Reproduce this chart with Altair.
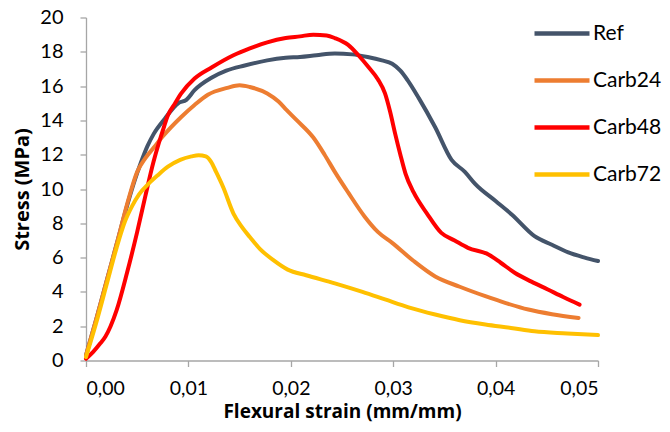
import altair as alt
import pandas as pd

series = ["Ref", "Carb24", "Carb48", "Carb72"]
colors = ["#44546A", "#ED7D31", "#FF0000", "#FFC000"]

ref_x = [0, 0.001, 0.002, 0.003, 0.004, 0.0047, 0.0054, 0.006, 0.0066, 0.0077, 0.009, 0.0098, 0.0106,
         0.0123, 0.0137, 0.0155, 0.0177, 0.0195, 0.0209, 0.0225, 0.0243, 0.026, 0.0275, 0.0289, 0.0299,
         0.0307, 0.0314, 0.0325, 0.0341, 0.0357, 0.037, 0.038, 0.040, 0.0416, 0.0438, 0.0455, 0.0471,
         0.0487, 0.050]
ref_y = [0.3, 2.4, 4.6, 6.8, 9.0, 10.4, 11.6, 12.5, 13.2, 14.1, 15.0, 15.2, 15.76,
         16.5, 16.9, 17.2, 17.5, 17.65, 17.7, 17.8, 17.9, 17.85, 17.7, 17.5, 17.3,
         16.9, 16.35, 15.3, 13.6, 11.7, 11.0, 10.3, 9.3, 8.5, 7.25, 6.75, 6.3,
         6.0, 5.8]

c24_x = [0, 0.001, 0.002, 0.003, 0.0041, 0.005, 0.0058, 0.0066, 0.0074, 0.0093, 0.0106, 0.0119,
         0.0138, 0.015, 0.016, 0.0177, 0.0188, 0.0196, 0.0206, 0.0222, 0.0233, 0.0243, 0.0256,
         0.0272, 0.0285, 0.0299, 0.032, 0.0341, 0.0365, 0.039, 0.041, 0.0432, 0.0455, 0.0481]
c24_y = [0.3, 2.4, 4.6, 6.8, 9.3, 11.0, 11.8, 12.4, 13.0, 14.2, 14.9, 15.5,
         15.9, 16.05, 15.95, 15.57, 15.1, 14.6, 14.0, 13.0, 12.0, 11.0, 9.8,
         8.4, 7.5, 6.86, 5.8, 4.9, 4.3, 3.75, 3.35, 2.97, 2.7, 2.48]

c48_x = [0, 0.0007, 0.0014, 0.0019, 0.0024, 0.003, 0.004, 0.005, 0.0058, 0.0066, 0.0071, 0.0076,
         0.008, 0.0087, 0.0093, 0.0106, 0.0123, 0.0144, 0.016, 0.0177, 0.0195, 0.0209, 0.0222,
         0.0235, 0.0243, 0.0256, 0.0266, 0.0276, 0.0285, 0.0292, 0.0297, 0.0302, 0.0307, 0.0312, 0.032,
         0.0333, 0.0347, 0.036, 0.0373, 0.0393, 0.0405, 0.0419, 0.0435, 0.0451, 0.0466, 0.0482]
c48_y = [0.1, 0.5, 1.0, 1.4, 2.0, 2.95, 5.1, 7.5, 9.6, 11.6, 12.65, 13.6,
         14.3, 15.0, 15.57, 16.44, 17.1, 17.8, 18.2, 18.55, 18.8, 18.9, 19.0,
         18.95, 18.8, 18.4, 17.8, 17.1, 16.4, 15.57, 14.5, 13.2, 12.0, 10.9, 9.8,
         8.57, 7.44, 7.0, 6.57, 6.18, 5.7, 5.1, 4.6, 4.14, 3.7, 3.26]

c72_x = [0, 0.001, 0.002, 0.003, 0.0038, 0.0045, 0.0052, 0.0061, 0.007, 0.008, 0.0092, 0.0103, 0.011,
         0.0117, 0.0122, 0.0127, 0.0134, 0.0144, 0.0152, 0.016, 0.017, 0.0183, 0.0197, 0.0215, 0.0243,
         0.027, 0.0292, 0.0315, 0.0341, 0.0365, 0.039, 0.0415, 0.0438, 0.047, 0.050]
c72_y = [0.2, 2.2, 4.4, 6.6, 8.1, 9.0, 9.7, 10.3, 10.8, 11.3, 11.7, 11.9, 11.97,
         11.9, 11.6, 11.0, 10.1, 8.57, 7.8, 7.2, 6.5, 5.85, 5.3, 4.97, 4.5,
         4.0, 3.56, 3.1, 2.68, 2.35, 2.1, 1.9, 1.7, 1.58, 1.48]

x_ticks = [0, 0.01, 0.02, 0.03, 0.04, 0.05]
y_ticks = [0, 2, 4, 6, 8, 10, 12, 14, 16, 18, 20]

rows = []
for i, (name, xs, ys) in enumerate(zip(series, [ref_x, c24_x, c48_x, c72_x], [ref_y, c24_y, c48_y, c72_y])):
    for j, (xv, yv) in enumerate(zip(xs, ys)):
        rows.append({"series": name, "x": xv, "y": yv, "order": j, "s": i})
df = pd.DataFrame(rows)

FONT = "Lato"
TFONT = "Open Sans"

chart = alt.Chart(df).mark_line(strokeWidth=4, interpolate="monotone", strokeCap="round").encode(
    x=alt.X("x:Q", scale=alt.Scale(domain=[0, 0.05], nice=False),
            axis=alt.Axis(values=x_ticks, title="Flexural strain (mm/mm)",
                          labelExpr="replace(format(datum.value, '.2f'), '.', ',')",
                          labelFontSize=19.5,
                          titleX=256, titleY=57, titleAnchor="middle", titleAlign="center",
                          titleBaseline="alphabetic", titleFontSize=19, labelPadding=13)),
    y=alt.Y("y:Q", scale=alt.Scale(domain=[0, 20], nice=False),
            axis=alt.Axis(values=y_ticks, title="Stress (MPa)", titleAngle=-90,
                          titleX=-64, titleY=171.5, titleAlign="center", titleBaseline="middle",
                          labelPadding=17)),
    color=alt.Color("series:N", scale=alt.Scale(domain=series, range=colors),
                    legend=alt.Legend(title=None, orient="none", legendX=446, legendY=-14,
                                      symbolType="stroke", symbolSize=3025, symbolStrokeWidth=4.5,
                                      labelFontSize=21, labelFont=FONT, labelColor="#000000",
                                      labelOffset=1, rowPadding=7, padding=0)),
    detail="s:N",
    order="order:Q",
).properties(
    width=512, height=343,
    autosize=alt.AutoSizeParams(type="none"),
    padding={"left": 78, "top": 9.5, "right": 64, "bottom": 63},
).configure_view(stroke=None).configure_axis(
    grid=False, domainColor="#A6A6A6", tickColor="#A6A6A6", domainWidth=1.3, tickWidth=1.3,
    tickSize=6, labelFont=FONT, labelFontSize=20, labelColor="#000000",
    titleFont=TFONT, titleFontSize=20, titleFontWeight="bold", titleColor="#000000",
)

chart.save("out.html", embed_options={"renderer": "svg", "actions": False})
